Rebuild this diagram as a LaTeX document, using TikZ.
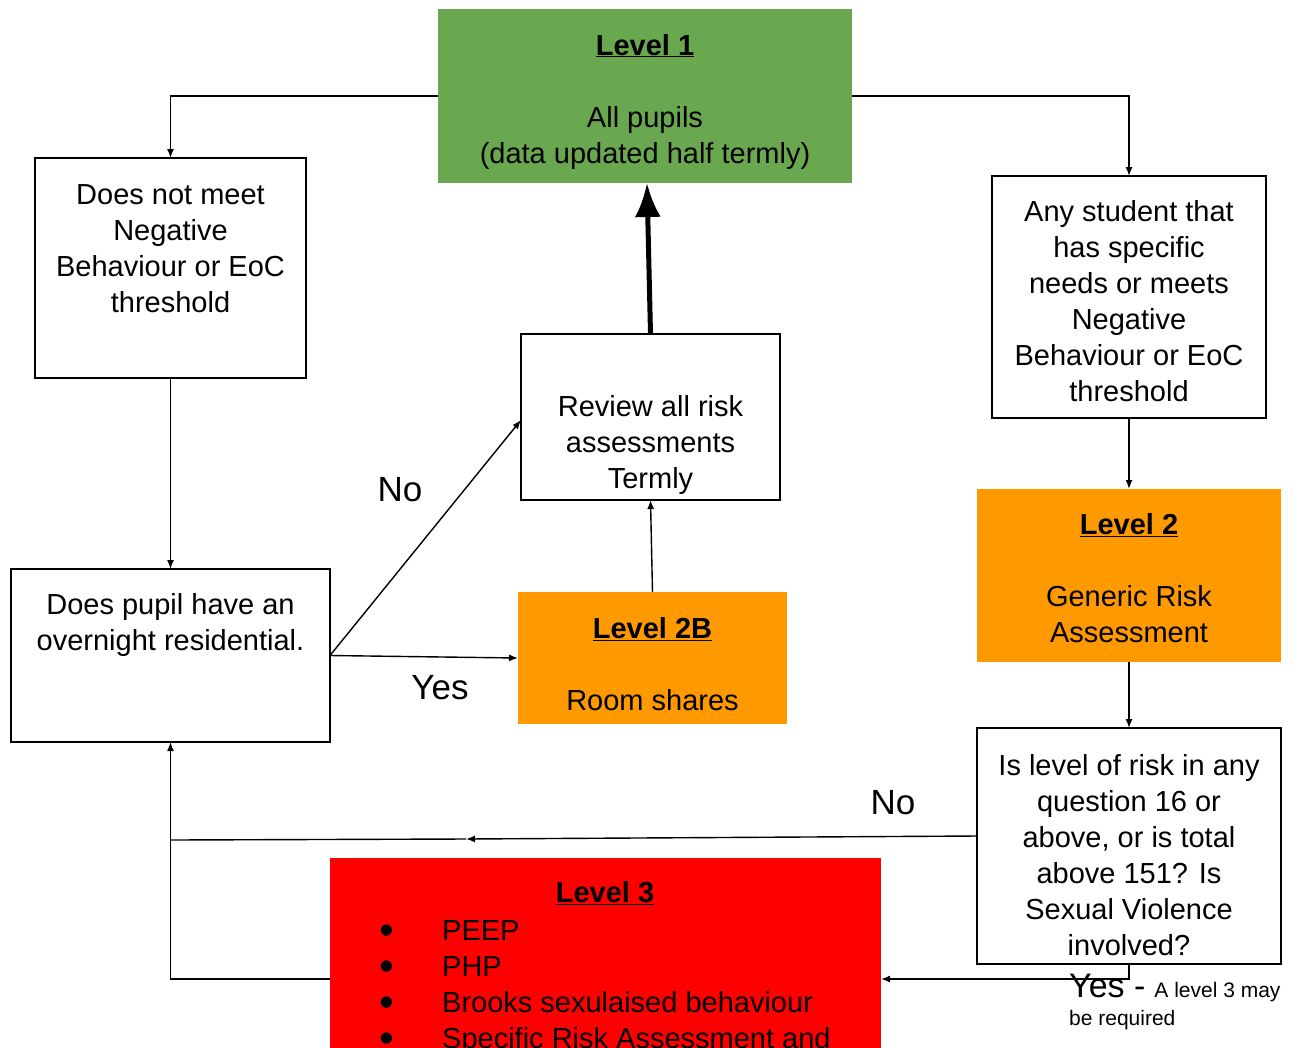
\documentclass[tikz,border=0pt]{standalone}
\usepackage{fontspec}
\setmainfont{Liberation Sans}
\usetikzlibrary{arrows.meta}
\definecolor{lvlgreen}{HTML}{6AA84F}
\definecolor{lvlorange}{HTML}{FF9900}
\definecolor{lvlred}{HTML}{FF0000}
\newcommand{\bigbul}{\makebox[63pt][l]{\smash{\raisebox{-4pt}{\fontsize{42}{36}\selectfont\textbullet}}}}
\begin{document}
\begin{tikzpicture}[x=1pt,y=-1pt]
\tikzset{
  wbox/.style={draw=black,line width=1.4pt,fill=white,inner sep=0pt,outer sep=0pt},
  cbox/.style={draw=none,inner sep=0pt,outer sep=0pt},
  txt/.style={align=center,inner sep=0pt,font=\fontsize{29}{36}\selectfont},
  conn/.style={line width=1.4pt,-{Latex[length=9pt,width=7pt]}},
  plainline/.style={line width=1.4pt},
  bigarrow/.style={line width=5pt,-{Latex[length=34pt,width=26pt]}},
  lbl/.style={inner sep=0pt,font=\fontsize{35}{40}\selectfont}
}
\clip (0,0) rectangle (1306,1047);
\fill[white] (0,0) rectangle (1306,1047);

% boxes
\node[cbox,fill=lvlgreen,minimum width=414pt,minimum height=174pt] (l1) at (645,96) {};
\node[wbox,minimum width=271pt,minimum height=220pt] (dnm) at (170.5,268) {};
\node[wbox,minimum width=274pt,minimum height=242pt] (any) at (1129,297) {};
\node[cbox,fill=lvlorange,minimum width=304pt,minimum height=173pt] (l2) at (1129,575.5) {};
\node[wbox,minimum width=304pt,minimum height=236pt] (risk) at (1129,846) {};
\node[wbox,minimum width=319pt,minimum height=173pt] (pupil) at (170.5,655.5) {};
\node[wbox,minimum width=259pt,minimum height=166pt] (review) at (650.5,417) {};
\node[cbox,fill=lvlorange,minimum width=269pt,minimum height=132pt] (l2b) at (652.5,658) {};
\node[cbox,fill=lvlred,minimum width=551pt,minimum height=242pt] (l3) at (605.5,979) {};

% texts
\node[txt] (l1t) at (645,101.5) {\underline{\textbf{Level 1}}\\[36pt]All pupils\\(data updated half termly)};
\node[txt] (dnmt) at (170.5,249) {Does not meet\\Negative\\Behaviour or EoC\\threshold};
\node[txt] (anyt) at (1129,301) {Any student that\\has specific\\needs or meets\\Negative\\Behaviour or EoC\\threshold};
\node[txt] (l2t) at (1129,578.5) {\underline{\textbf{Level 2}}\\[36pt]Generic Risk\\Assessment};
\node[txt] (riskt) at (1129,855) {Is level of risk in any\\question 16 or\\above, or is total\\above 151? Is\\Sexual Violence\\involved?};
\node[txt] (pupilt) at (170.5,625) {Does pupil have an\\overnight residential.};
\node[txt] (reviewt) at (650.5,445) {Review all risk\\assessments\\Termly};
\node[txt] (l2bt) at (652.5,664) {\underline{\textbf{Level 2B}}\\[36pt]Room shares};
\node[txt] (l3t) at (605,893) {\underline{\textbf{Level 3}}};
\node[txt,align=left,anchor=north west] (l3list) at (379,920)
  {\bigbul PEEP\\
   \bigbul PHP\\
   \bigbul Brooks sexulaised behaviour\\
   \bigbul Specific Risk Assessment and};

% connectors
\draw[conn] (l1.west) -| (dnm.north);
\draw[conn] (l1.east) -| (any.north);
\draw[conn] (dnm.south) -- (pupil.north);
\draw[conn] (any.south) -- (l2.north);
\draw[conn] (l2.south) -- (risk.north);
\draw[bigarrow] (review.north) -- ([xshift=2pt]l1.south);
\draw[conn] (l2b.north) -- (review.south);
\draw[conn] (pupil.east) -- ([yshift=-3pt]review.west);
\draw[conn] (pupil.east) -- (l2b.west);
\coordinate (nostart) at (977,836);
\coordinate (nomid) at (466,839);
\coordinate (nojoin) at (170.5,840);
\draw[conn] (nostart) -- (nomid);
\draw[plainline] (nomid) -- (nojoin);
\draw[conn] (l3.west) -| (pupil.south);
\draw[conn] (risk.south) |- (l3.east);

% labels
\node[lbl] (nolbl1) at (400,490) {No};
\node[lbl] (yeslbl1) at (440,688) {Yes};
\node[lbl] (nolbl2) at (893,803) {No};
\node[inner sep=0pt,align=left,anchor=north west,font=\fontsize{21}{28}\selectfont] (yeslbl2) at (1069,974)
  {{\fontsize{34}{28}\selectfont Yes -}\hspace{9pt}A level 3 may\\be required};
\end{tikzpicture}
\end{document}
